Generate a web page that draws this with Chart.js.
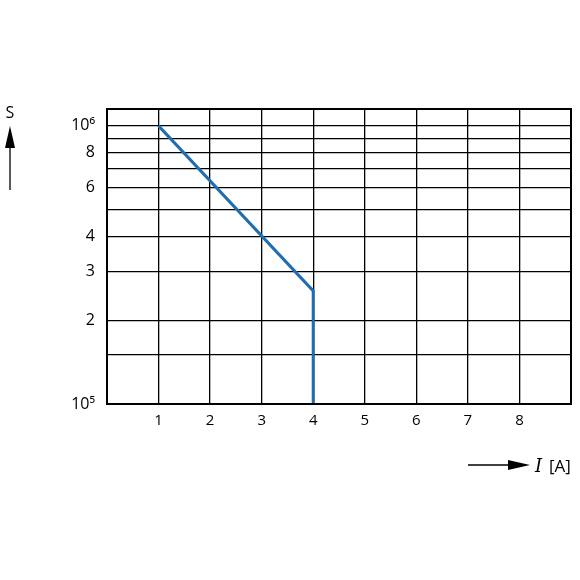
<!DOCTYPE html>
<html><head><meta charset="utf-8">
<script src="https://cdn.jsdelivr.net/npm/chart.js@4"></script>
<style>body{margin:0;background:#fff}#wrap{width:580px;height:580px}</style>
</head><body><div id="wrap"><canvas id="c"></canvas></div>
<script>
const xValues = [1, 4, 4];
const yValues = [1000000, 255000, 100000];
const yGrid = [100000, 150000, 200000, 300000, 400000, 500000, 600000, 700000, 800000, 900000, 1000000];
const yLabels = {100000: "10\u2075", 200000: "2", 300000: "3", 400000: "4", 600000: "6", 800000: "8", 1000000: "10\u2076"};
const xTicks = [0, 1, 2, 3, 4, 5, 6, 7, 8, 9];

const deco = {
  id: "deco",
  afterDraw(chart) {
    const c = chart.ctx;
    const a = chart.chartArea;
    c.save();
    c.strokeStyle = "#000"; c.fillStyle = "#000"; c.lineWidth = 2;
    c.strokeRect(a.left, a.top, a.right - a.left, a.bottom - a.top);
    c.lineWidth = 1.3;
    c.font = "16px 'Open Sans'";
    c.textAlign = "center";
    c.fillText("S", 10, 118);
    c.beginPath(); c.moveTo(10, 190); c.lineTo(10, 140); c.stroke();
    c.beginPath(); c.moveTo(10, 126); c.lineTo(5, 148); c.lineTo(15, 148); c.closePath(); c.fill();
    c.beginPath(); c.moveTo(468, 465); c.lineTo(512, 465); c.stroke();
    c.beginPath(); c.moveTo(530, 465); c.lineTo(508, 460); c.lineTo(508, 470); c.closePath(); c.fill();
    c.textAlign = "left";
    c.font = "italic 18px 'DejaVu Serif'";
    c.fillText("I", 535, 472);
    c.font = "17px 'Open Sans'";
    c.fillText("[A]", 549, 472);
    c.restore();
  }
};

new Chart(document.getElementById("c"), {
  type: "line",
  data: {
    datasets: [{
      data: xValues.map((x, i) => ({x: x, y: yValues[i]})),
      borderColor: "#1f6fb0",
      borderWidth: 3,
      pointRadius: 0,
      tension: 0
    }]
  },
  options: {
    responsive: true,
    maintainAspectRatio: false,
    animation: false,
    layout: {padding: {left: 0, top: 109, right: 9, bottom: 136}},
    plugins: {legend: {display: false}, tooltip: {enabled: false}},
    scales: {
      x: {
        type: "linear", min: 0, max: 9,
        afterBuildTicks: s => { s.ticks = xTicks.map(v => ({value: v})); },
        afterFit: s => { s.height = 40; },
        grid: {color: "#000", lineWidth: 1.3, drawTicks: false},
        border: {color: "#000", width: 2},
        ticks: {color: "#000", font: {family: "Open Sans", size: 15}, padding: 8,
          callback: v => (v >= 1 && v <= 8 ? String(v) : "")}
      },
      y: {
        type: "logarithmic", min: 100000, max: 1150000,
        afterBuildTicks: s => { s.ticks = yGrid.map(v => ({value: v})); },
        afterFit: s => { s.width = 107; },
        grid: {color: "#000", lineWidth: 1.3, drawTicks: false},
        border: {color: "#000", width: 2},
        ticks: {color: "#000", font: {family: "Open Sans", size: 16}, padding: 12,
          autoSkip: false, callback: v => yLabels[v] || ""}
      }
    }
  },
  plugins: [deco]
});
</script></body></html>
